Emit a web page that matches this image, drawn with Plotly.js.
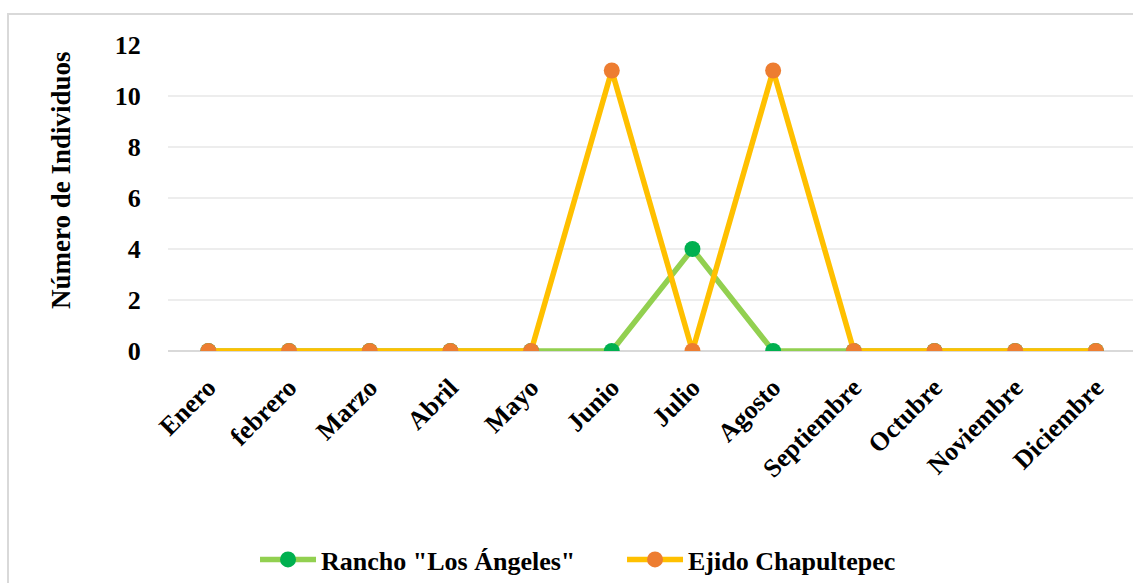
<!DOCTYPE html>
<html>
<head>
<meta charset="utf-8">
<script src="https://cdn.plot.ly/plotly-3.0.1.min.js"></script>
<style>
  html, body { margin: 0; padding: 0; background: #ffffff; overflow: hidden; }
  #chart { width: 1133px; height: 583px; position: absolute; left: 0; top: 0; }
  #frame { position: absolute; left: 7px; top: 13px; width: 1140px; height: 600px;
           border: 2px solid #d9d9d9; pointer-events: none; }
</style>
</head>
<body>
<div id="chart"></div>
<div id="frame"></div>
<script>
// Monthly counts of individuals at each site
const months = ["Enero", "febrero", "Marzo", "Abril", "Mayo", "Junio", "Julio",
                "Agosto", "Septiembre", "Octubre", "Noviembre", "Diciembre"];
const ranchoName = 'Rancho "Los Ángeles"';
const ranchoValues = [0, 0, 0, 0, 0, 0, 4, 0, 0, 0, 0, 0];
const ejidoName = "Ejido Chapultepec";
const ejidoValues = [0, 0, 0, 0, 0, 11, 0, 11, 0, 0, 0, 0];
const yTicks = [0, 2, 4, 6, 8, 10, 12];
const yTitle = "Número de Individuos";

const FONT = "Liberation Serif, Times New Roman, serif";

const traces = [
  {
    x: months, y: ranchoValues, name: ranchoName, type: "scatter", mode: "lines+markers",
    line: { color: "#92D050", width: 5.5 },
    marker: { color: "#00B050", size: 16 }
  },
  {
    x: months, y: ejidoValues, name: ejidoName, type: "scatter", mode: "lines+markers",
    line: { color: "#FFC000", width: 5.5 },
    marker: { color: "#ED7D31", size: 16 }
  }
];

const layout = {
  width: 1133, height: 583,
  margin: { l: 168, r: 0, t: 45, b: 232 },
  paper_bgcolor: "#ffffff", plot_bgcolor: "#ffffff",
  font: { family: FONT, color: "#000000", size: 26, weight: "bold" },
  showlegend: true,
  legend: {
    orientation: "h", x: 0.549, xanchor: "center", xref: "container",
    y: 551, yref: "container", yanchor: "middle",
    font: { family: FONT, size: 26, weight: "bold", color: "#000" },
    itemwidth: 56,
    entrywidth: 296, entrywidthmode: "pixels",
    tracegroupgap: 0
  },
  xaxis: {
    type: "category", range: [-0.5, 11.46],
    tickangle: -45, tickfont: { family: FONT, size: 26, weight: "bold" },
    ticks: "outside", ticklen: 10, tickcolor: "rgba(0,0,0,0)",
    showgrid: false, showline: false, zeroline: false, fixedrange: true
  },
  yaxis: {
    range: [0, 12], tickvals: yTicks, ticktext: yTicks.map(String),
    tickfont: { family: FONT, size: 26, weight: "bold" },
    ticks: "outside", ticklen: 21, tickcolor: "rgba(0,0,0,0)",
    showgrid: true, gridcolor: "#ededed", gridwidth: 2,
    zeroline: true, zerolinecolor: "#d9d9d9", zerolinewidth: 2,
    showline: false, fixedrange: true
  },
  annotations: [{
    text: yTitle, textangle: -90, showarrow: false,
    xref: "paper", yref: "paper",
    x: -(168 - 61) / 965, y: (351 - 180) / 306,
    xanchor: "center", yanchor: "middle",
    font: { family: FONT, size: 27, weight: "bold", color: "#000" }
  }]
};

Plotly.newPlot("chart", traces, layout, { displayModeBar: false, staticPlot: true });
</script>
</body>
</html>
